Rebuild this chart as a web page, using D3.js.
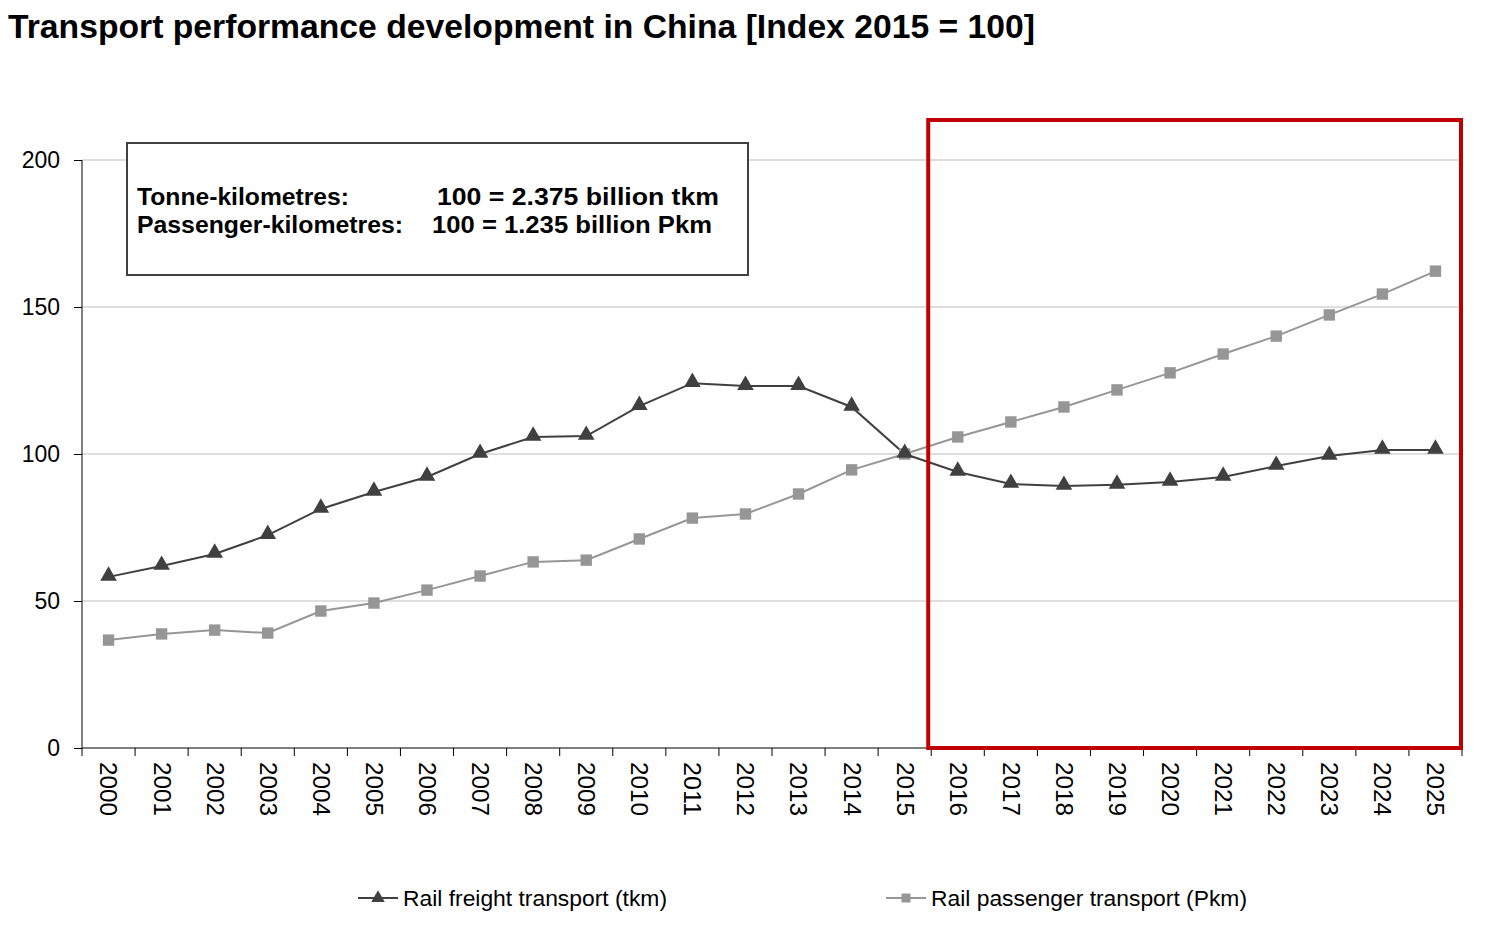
<!DOCTYPE html>
<html>
<head>
<meta charset="utf-8">
<script src="https://cdn.jsdelivr.net/npm/d3@7"></script>
<style>
  body { margin: 0; background: #fff; }
  text { font-family: "Liberation Sans", Arial, sans-serif; }
</style>
</head>
<body>
<svg id="chart" width="1498" height="932"></svg>
<script>
// data
var years = ["2000","2001","2002","2003","2004","2005","2006","2007","2008","2009","2010","2011","2012",
             "2013","2014","2015","2016","2017","2018","2019","2020","2021","2022","2023","2024","2025"];
var freight = [58.2, 61.9, 66.0, 72.4, 81.3, 87.1, 92.2, 100, 105.8, 106.1, 116.3, 124.1, 123.1,
               123.1, 116.0, 100, 93.9, 89.8, 89.1, 89.5, 90.5, 92.2, 95.9, 99.3, 101.4, 101.4];
var passenger = [36.7, 38.8, 40.1, 39.1, 46.6, 49.3, 53.7, 58.5, 63.3, 63.9, 71.1, 78.2, 79.6,
                 86.4, 94.6, 100, 105.8, 110.9, 116.0, 121.8, 127.6, 134.0, 140.1, 147.3, 154.4, 162.2];
var yTicks = [0, 50, 100, 150, 200];
var seriesNames = ["Rail freight transport (tkm)", "Rail passenger transport (Pkm)"];
var forecastYears = ["2016", "2025"];

var svg = d3.select("#chart");
var margin = {top: 160, left: 82, right: 36, bottom: 184};
var width = 1498 - margin.left - margin.right,
    height = 932 - margin.top - margin.bottom;

var x = d3.scaleBand().domain(years).range([0, width]);
var y = d3.scaleLinear().domain([0, 200]).range([height, 0]);

svg.append("text")
    .attr("x", 8).attr("y", 38)
    .attr("font-size", 33).attr("font-weight", "bold")
    .attr("textLength", 1027).attr("lengthAdjust", "spacingAndGlyphs")
    .text("Transport performance development in China [Index 2015 = 100]");

var g = svg.append("g").attr("transform", "translate(" + margin.left + "," + margin.top + ")");

// gridlines
g.selectAll(".grid").data(yTicks.filter(function(d) { return d > 0; }))
  .enter().append("line")
    .attr("x1", 0).attr("x2", width)
    .attr("y1", function(d) { return y(d); }).attr("y2", function(d) { return y(d); })
    .attr("stroke", "#bdbdbd").attr("stroke-width", 1);

// y axis
var yAxis = g.append("g")
    .call(d3.axisLeft(y).tickValues(yTicks).tickSize(8).tickPadding(14));
yAxis.selectAll("text").attr("font-size", 23).attr("fill", "#000")
    .style("font-family", "'Liberation Sans', Arial, sans-serif");
yAxis.selectAll("line,path").attr("stroke", "#000");
yAxis.select(".domain").attr("d", "M0," + height + "V0");

// x axis with ticks on band edges
var xAxis = g.append("g").attr("transform", "translate(0," + height + ")");
xAxis.append("line").attr("x1", 0).attr("x2", width).attr("stroke", "#000");
var edges = years.map(function(d) { return x(d); }).concat([width]);
xAxis.selectAll(".tk").data(edges).enter().append("line")
    .attr("x1", function(d) { return d; }).attr("x2", function(d) { return d; })
    .attr("y1", 0).attr("y2", 8).attr("stroke", "#000");
xAxis.selectAll(".lbl").data(years).enter().append("text")
    .attr("transform", function(d) {
      return "translate(" + (x(d) + x.bandwidth() / 2) + ",14) rotate(90)";
    })
    .attr("dy", "0.35em")
    .attr("font-size", 23)
    .attr("textLength", 54).attr("lengthAdjust", "spacingAndGlyphs")
    .text(function(d) { return d; });

// info box
var box = svg.append("g").attr("transform", "translate(127,143)");
box.append("rect").attr("width", 621).attr("height", 132)
    .attr("fill", "#fff").attr("stroke", "#404040").attr("stroke-width", 2);
var boxLines = [
  {t: "Tonne-kilometres:", x: 10, y: 62, w: 212},
  {t: "100 = 2.375 billion tkm", x: 310, y: 62, w: 282},
  {t: "Passenger-kilometres:", x: 10, y: 90, w: 266},
  {t: "100 = 1.235 billion Pkm", x: 305, y: 90, w: 280}
];
box.selectAll(".bt").data(boxLines).enter().append("text")
    .attr("x", function(d) { return d.x; }).attr("y", function(d) { return d.y; })
    .attr("font-size", 23).attr("font-weight", "bold")
    .attr("textLength", function(d) { return d.w; }).attr("lengthAdjust", "spacingAndGlyphs")
    .text(function(d) { return d.t; });

// lines
var line = d3.line()
    .x(function(d, i) { return x(years[i]) + x.bandwidth() / 2; })
    .y(function(d) { return y(d); });

g.append("path").datum(passenger).attr("d", line)
    .attr("fill", "none").attr("stroke", "#969696").attr("stroke-width", 2);
g.append("path").datum(freight).attr("d", line)
    .attr("fill", "none").attr("stroke", "#404040").attr("stroke-width", 2);

var tri = d3.symbol().type(d3.symbolTriangle).size(120);
var sq = d3.symbol().type(d3.symbolSquare).size(130);

g.selectAll(".pt-p").data(passenger).enter().append("path")
    .attr("d", sq)
    .attr("transform", function(d, i) { return "translate(" + (x(years[i]) + x.bandwidth() / 2) + "," + y(d) + ")"; })
    .attr("fill", "#969696");
g.selectAll(".pt-f").data(freight).enter().append("path")
    .attr("d", tri)
    .attr("transform", function(d, i) { return "translate(" + (x(years[i]) + x.bandwidth() / 2) + "," + (y(d) - 1) + ")"; })
    .attr("fill", "#404040");

// forecast frame
var fx0 = x(forecastYears[0]) - 3, fx1 = x(forecastYears[1]) + x.bandwidth() - 1;
g.append("rect")
    .attr("x", fx0).attr("y", -40)
    .attr("width", fx1 - fx0).attr("height", height + 40)
    .attr("fill", "none").attr("stroke", "#c00000").attr("stroke-width", 4);

// legend
var legend = svg.append("g").attr("transform", "translate(0,898)");
var items = [
  {name: seriesNames[0], x: 358, color: "#404040", sym: tri, w: 264},
  {name: seriesNames[1], x: 886, color: "#969696", sym: sq, w: 316}
];
var li = legend.selectAll(".li").data(items).enter().append("g")
    .attr("transform", function(d) { return "translate(" + d.x + ",0)"; });
li.append("line").attr("x1", 0).attr("x2", 40)
    .attr("stroke", function(d) { return d.color; }).attr("stroke-width", 2);
li.append("path").attr("d", function(d) { return d.sym.size(80)(); })
    .attr("transform", "translate(20,0)")
    .attr("fill", function(d) { return d.color; });
li.append("text").attr("x", 45).attr("dy", "0.35em").attr("font-size", 22)
    .attr("textLength", function(d) { return d.w; }).attr("lengthAdjust", "spacingAndGlyphs")
    .text(function(d) { return d.name; });
</script>
</body>
</html>
